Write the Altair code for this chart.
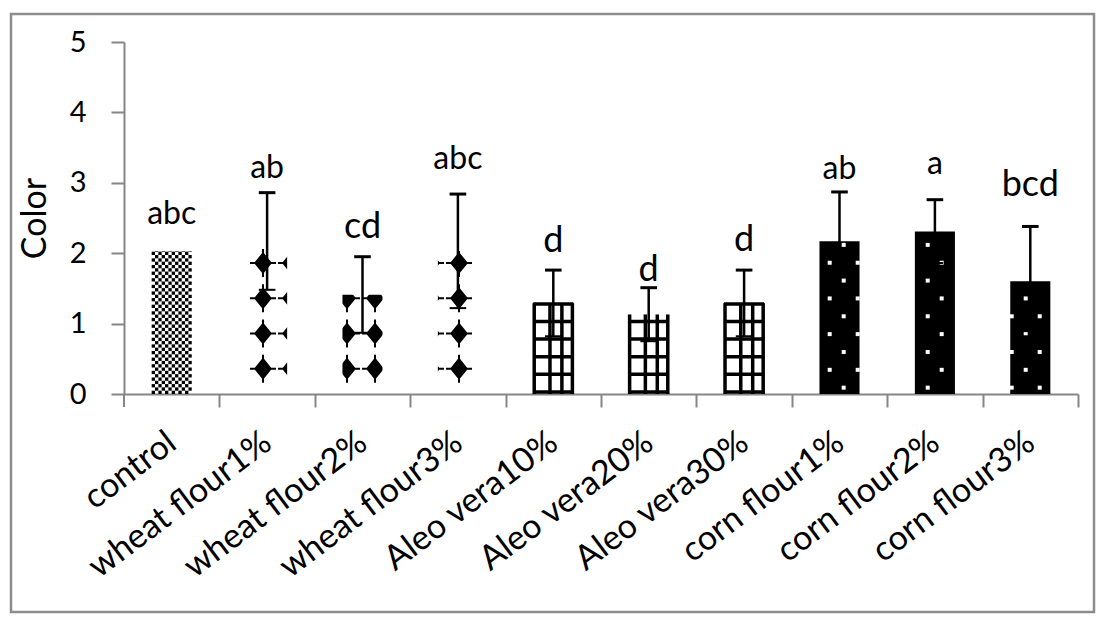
import altair as alt
import pandas as pd
import numpy as np

# ---------------- data ----------------
categories = ["control", "wheat flour1%", "wheat flour2%", "wheat flour3%",
              "Aleo vera10%", "Aleo vera20%", "Aleo vera30%",
              "corn flour1%", "corn flour2%", "corn flour3%"]
means = [2.03, 2.17, 1.41, 2.03, 1.29, 1.13, 1.29, 2.17, 2.31, 1.60]
sds = [0.0, 0.69, 0.54, 0.81, 0.47, 0.38, 0.47, 0.70, 0.45, 0.78]
letters = ["abc", "ab", "cd", "abc", "d", "d", "d", "ab", "a", "bcd"]
letter_base = [2.41, 3.07, 2.22, 3.19, 2.01, 1.61, 2.03, 3.05, 3.12, 2.81]
groups = ["control", "wheat", "wheat", "wheat", "aleo", "aleo", "aleo",
          "corn", "corn", "corn"]

# ---------------- layout / style constants ----------------
W, H = 954, 352
HALF = 0.21                     # half bar width in category units
GRAY = "#868686"
FONT = "Lato"

df = pd.DataFrame({"idx": list(range(len(categories))), "cat": categories,
                   "mean": means, "sd": sds, "letter": letters,
                   "ly": letter_base, "group": groups})
df["lo"] = df["idx"] - HALF
df["hi"] = df["idx"] + HALF
df["emin"] = df["mean"] - df["sd"]
df["emax"] = df["mean"] + df["sd"]

# ---------------- fill patterns derived from the bars ----------------
cells, diamonds, masks, hrules, vrules, dots = [], [], [], [], [], []
for i, (g, m) in enumerate(zip(groups, means)):
    lo, hi = i - HALF, i + HALF
    if g == "control":                      # checkerboard
        ncol, ch = 12, 0.047
        cw = 2 * HALF / ncol
        for r in range(int(np.ceil(m / ch))):
            for c in range(ncol):
                if (r + c) % 2 == 0:
                    cells.append({"x": lo + c * cw, "x2": lo + (c + 1) * cw,
                                  "y": r * ch, "y2": min((r + 1) * ch, m)})
    elif g == "wheat":                      # diamonds on a global grid
        period, origin = 0.2935, 0.957
        yv = 0.36
        while yv - 0.16 < m:
            for k in range(-20, 40):
                u = origin + period * k
                if abs(u - i) < HALF + 0.09:
                    diamonds.append({"x": u, "y": yv})
            yv += 0.5
        masks.append({"x": lo - 0.3, "x2": lo, "y": 0.02, "y2": m + 0.3})
        masks.append({"x": hi, "x2": hi + 0.3, "y": 0.02, "y2": m + 0.3})
        masks.append({"x": lo - 0.3, "x2": hi + 0.3, "y": m, "y2": m + 0.3})
    elif g == "aleo":                       # grid
        yv = 0.03
        while yv < m:
            hrules.append({"x": lo, "x2": hi, "y": yv})
            yv += 0.25
        for off in (-0.2, -0.035, 0.09, 0.2):
            vrules.append({"x": i + off, "y": 0.0, "y2": m})
    elif g == "corn":                       # white dots, staggered grid
        period, origin = 0.2935, 7.044
        k = 0
        yv = 0.09
        while yv < m - 0.03:
            shift = 0.0 if k % 2 == 0 else period / 2
            for j in range(-40, 40):
                u = origin + shift + period * j
                if abs(u - i) < HALF - 0.012:
                    dots.append({"x": u, "y": yv})
            k += 1
            yv += 0.2535

xscale = alt.Scale(domain=[-0.5, len(categories) - 0.5], nice=False, zero=False)
yscale = alt.Scale(domain=[0, 5], nice=False)
half_band = W / len(categories) / 2
label_expr = "[" + ",".join("'%s'" % c for c in categories) + "][datum.value]"
xaxis = alt.Axis(values=list(range(len(categories))), labelExpr=label_expr,
                 tickOffset=half_band, labelOffset=-half_band - 10,
                 labelAngle=-37, labelAlign="right", labelBaseline="top",
                 labelPadding=18, labelFont=FONT, labelFontSize=34,
                 labelColor="black", tickSize=13, labelOverlap=False,
                 labelFlush=False, labelLimit=0, grid=False, title=None)
yaxis = alt.Axis(values=[0, 1, 2, 3, 4, 5], tickSize=13, labelPadding=25,
                 labelFont=FONT, labelFontSize=29, labelColor="black",
                 grid=False, title="Color", titleFont=FONT,
                 titleFontSize=34, titleFontWeight="normal",
                 titleColor="black", titlePadding=17)


def X(field):
    return alt.X(field, type="quantitative", scale=xscale, axis=xaxis, title=None)


def Y(field):
    return alt.Y(field, type="quantitative", scale=yscale, axis=yaxis, title="Color")


base = alt.Chart(df)

frame = alt.Chart(alt.Data(values=[{"a": 1}])).mark_rect(
    fillOpacity=0, stroke="#8c8c8c", strokeWidth=2.5
).encode(x=alt.value(-113), x2=alt.value(970), y=alt.value(-28), y2=alt.value(570))

corn_bars = base.transform_filter("datum.group == 'corn'").mark_rect(color="black").encode(
    x=X("lo"), x2="hi", y=Y("mean"), y2=alt.Y2(datum=0))

checker = alt.Chart(pd.DataFrame(cells)).mark_rect(color="black").encode(
    x=X("x"), x2="x2", y=Y("y"), y2="y2")

dshape = ("M0,-0.79L0.64,0L0,0.79L-0.64,0Z "
          "M-0.93,-0.07L0.93,-0.07L0.93,0.07L-0.93,0.07Z "
          "M-0.07,-1L0.07,-1L0.07,1L-0.07,1Z")
diam = alt.Chart(pd.DataFrame(diamonds)).mark_point(
    shape=dshape, filled=True, color="black", opacity=1, size=784, strokeWidth=0
).encode(x=X("x"), y=Y("y"))

mask = alt.Chart(pd.DataFrame(masks)).mark_rect(color="white").encode(
    x=X("x"), x2="x2", y=Y("y"), y2="y2")

hgrid = alt.Chart(pd.DataFrame(hrules)).mark_rule(color="black", strokeWidth=3.5).encode(
    x=X("x"), x2="x2", y=Y("y"))
vgrid = alt.Chart(pd.DataFrame(vrules)).mark_rule(color="black", strokeWidth=3.5).encode(
    x=X("x"), y=Y("y"), y2="y2")

dot = alt.Chart(pd.DataFrame(dots)).mark_square(color="white", opacity=1, size=16).encode(
    x=X("x"), y=Y("y"))

eb = base.transform_filter("datum.sd > 0").transform_calculate(
    c1="datum.idx - 0.087", c2="datum.idx + 0.087")
err_line = eb.mark_rule(color="black", strokeWidth=2.5).encode(x=X("idx"), y=Y("emin"), y2="emax")
cap_top = eb.mark_rule(color="black", strokeWidth=3).encode(x=X("c1"), x2="c2", y=Y("emax"))
cap_bot = eb.mark_rule(color="black", strokeWidth=2).encode(x=X("c1"), x2="c2", y=Y("emin"))

text = base.mark_text(font=FONT, baseline="alphabetic", align="center", color="black").encode(
    x=X("idx"), y=Y("ly"), text="letter",
    size=alt.condition("indexof(datum.letter, 'd') >= 0", alt.value(36), alt.value(32)))

left_tick = alt.Chart(alt.Data(values=[{"a": 1}])).mark_rule(color=GRAY, strokeWidth=2).encode(
    x=alt.value(0), y=alt.value(H), y2=alt.value(H + 13))

chart = alt.layer(
    frame, corn_bars, checker, diam, mask, hgrid, vgrid, dot,
    err_line, cap_bot, cap_top, text, left_tick
).properties(
    width=W, height=H,
    padding={"left": 1, "top": 4, "right": 0, "bottom": 0},
    background="white"
).configure_view(stroke=None).configure_axis(
    domainColor=GRAY, domainWidth=2, tickColor=GRAY, tickWidth=2
)

chart.save("out.html", embed_options={"renderer": "svg", "actions": False})
